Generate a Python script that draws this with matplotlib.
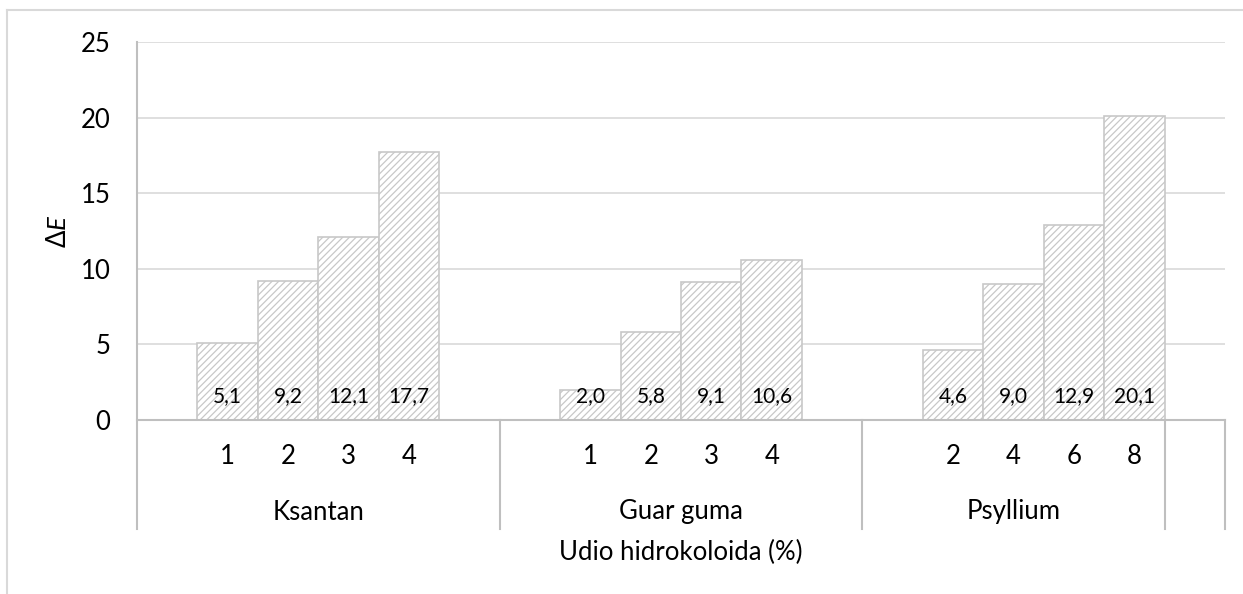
import matplotlib
matplotlib.use("Agg")
import matplotlib.pyplot as plt
from matplotlib.lines import Line2D

# ---- data ----
groups = ["Ksantan", "Guar guma", "Psyllium", ""]
ksantan_pct = ["1", "2", "3", "4"]
ksantan_dE = [5.1, 9.2, 12.1, 17.7]
guar_pct = ["1", "2", "3", "4"]
guar_dE = [2.0, 5.8, 9.1, 10.6]
psyllium_pct = ["2", "4", "6", "8"]
psyllium_dE = [4.6, 9.0, 12.9, 20.1]
y_ticks = [0, 5, 10, 15, 20, 25]
x_title = "Udio hidrokoloida (%)"
y_title = "Δ$E$"

# category slots per group (Excel layout includes blank categories)
group_slots = [
    [""] + ksantan_pct + [""],
    [""] + guar_pct + [""],
    [""] + psyllium_pct,
    [""],
]
group_vals = [
    [None] + ksantan_dE + [None],
    [None] + guar_dE + [None],
    [None] + psyllium_dE,
    [None],
]

plt.rcParams["font.family"] = ["Lato", "DejaVu Sans"]
plt.rcParams["mathtext.fontset"] = "custom"
plt.rcParams["mathtext.it"] = "Lato:italic"
plt.rcParams["mathtext.rm"] = "Lato"
plt.rcParams["hatch.linewidth"] = 0.9

W, H = 1243, 594
fig = plt.figure(figsize=(W / 100, H / 100), dpi=100)
ax_left, ax_right, ax_top, ax_bot = 137, 1225, 42, 420
ax = fig.add_axes([ax_left / W, 1 - ax_bot / H, (ax_right - ax_left) / W, (ax_bot - ax_top) / H])

labels = [s for g in group_slots for s in g]
vals = [v for g in group_vals for v in g]
n = len(labels)
xs = list(range(n))

grid_c = "#d9d9d9"
edge_c = "#c8c8c8"

ax.set_xlim(-0.5, n - 0.5)
ax.set_ylim(0, 25)
ax.set_yticks(y_ticks)
ax.yaxis.grid(True, color=grid_c, lw=1.2)
ax.set_axisbelow(True)
for s in ["top", "right", "bottom", "left"]:
    ax.spines[s].set_visible(False)
ax.tick_params(axis="y", length=0, pad=19, labelsize=18.5)
ax.tick_params(axis="x", length=0)
ax.set_xticks([])

bx = [x for x, v in zip(xs, vals) if v is not None]
bv = [v for v in vals if v is not None]
ax.bar(bx, bv, width=1.0, color="white", edgecolor=edge_c, hatch="/////", linewidth=1.2, zorder=2)

for x, v in zip(bx, bv):
    ax.annotate(f"{v:.1f}".replace(".", ","), (x, 0), xytext=(0, 17), textcoords="offset points",
                ha="center", va="center", fontsize=15, color="black", zorder=3)

# multi-level category axis
trans = ax.get_xaxis_transform()
axh = ax_bot - ax_top
def ay(px_below):
    return -px_below / axh

ax.plot([-0.5, n - 0.5], [0, 0], transform=trans, color="#bfbfbf", lw=1.5, clip_on=False, zorder=4)
ax.plot([-0.5, -0.5], [ay(109), 1], transform=trans, color="#bfbfbf", lw=1.5, clip_on=False, zorder=4)

pos = -0.5
for g, slots in zip(groups, group_slots):
    start = pos
    end = pos + len(slots)
    ax.plot([end, end], [ay(109), 0], transform=trans, color="#bfbfbf", lw=1.5, clip_on=False)
    for i, s in enumerate(slots):
        if s:
            ax.text(start + 0.5 + i, ay(37), s, transform=trans, ha="center", va="center", fontsize=18.5)
    if g:
        ax.text((start + end) / 2, ay(92), g, transform=trans, ha="center", va="center", fontsize=18.5)
    pos = end

ax.text(0.5, ay(132), x_title, transform=ax.transAxes, ha="center", va="center", fontsize=18.5)
ax.text((58 - ax_left) / (ax_right - ax_left), 0.5, y_title, transform=ax.transAxes,
        ha="center", va="center", rotation=90, fontsize=18.5)

# outer chart frame (left & top edges visible)
fig.add_artist(Line2D([7 / W, 7 / W], [0, 1 - 10 / H], color=grid_c, lw=1.5))
fig.add_artist(Line2D([7 / W, 1], [1 - 10 / H, 1 - 10 / H], color=grid_c, lw=1.5))

fig.savefig("out.png", dpi=100)
